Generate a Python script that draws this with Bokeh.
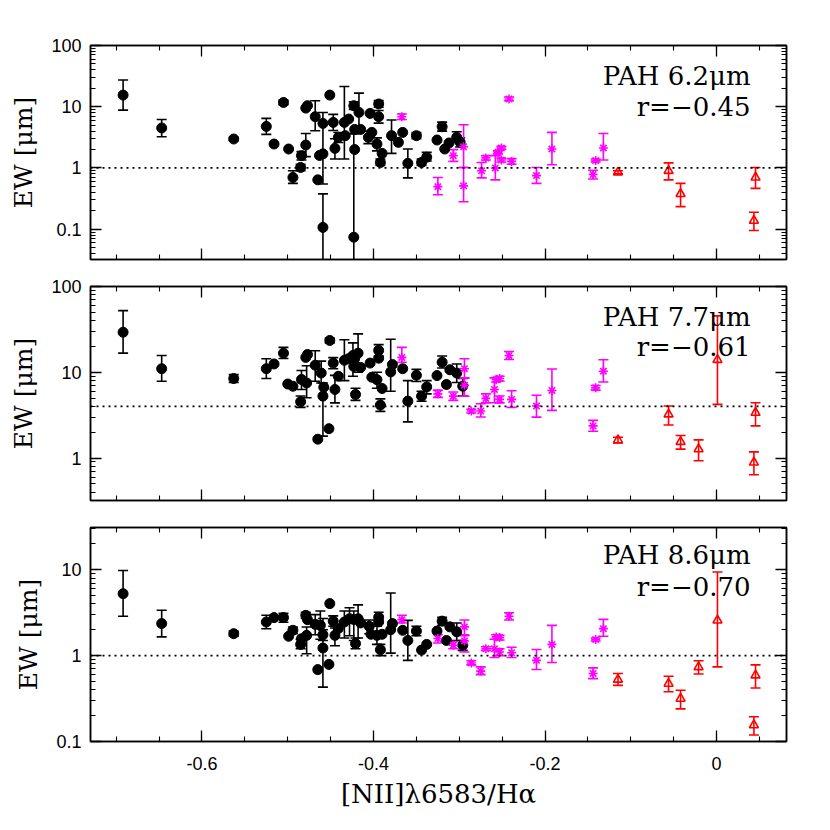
from bokeh.plotting import figure
from bokeh.layouts import column
from bokeh.models import (ColumnDataSource, Whisker, TeeHead, Span, Label, LogAxis, LinearAxis,
                          FixedTicker, CustomJSTickFormatter)
from bokeh.embed import file_html
from bokeh.resources import INLINE

# ---------------- data ----------------
# Panel 1 : PAH 6.2um
P1_BLK_X = [-0.692, -0.647, -0.563, -0.525, -0.516, -0.505, -0.499, -0.494, -0.485, -0.484, -0.479, -0.479, -0.477,
            -0.468, -0.465, -0.463, -0.459, -0.459, -0.459, -0.451, -0.447, -0.445, -0.441, -0.434, -0.433, -0.429,
            -0.423, -0.422, -0.415, -0.417, -0.422, -0.423, -0.404, -0.406, -0.402, -0.394, -0.394, -0.396, -0.392,
            -0.390, -0.379, -0.371, -0.366, -0.360, -0.350, -0.344, -0.338, -0.326, -0.320, -0.317, -0.312, -0.303, -0.299]
P1_BLK_Y = [15.5, 4.5, 2.97, 4.77, 2.46, 11.75, 2.04, 0.70, 1.02, 1.59, 2.37, 9.5, 10.4,
            6.87, 0.64, 1.6, 1.7, 5.34, 0.107, 15.5, 5.55, 2.09, 3.16, 5.55, 3.37, 6.3,
            10.4, 4.26, 4.26, 8.07, 2.0, 0.074, 7.78, 3.16, 3.81, 11.1, 6.87, 2.46, 1.23,
            1.73, 3.37, 2.62, 3.81, 1.19, 3.37, 1.23, 1.50, 2.86, 4.72, 2.04, 2.56, 3.16, 2.62]
P1_BLK_LO = [8.8, 3.24, 2.8, 3.53, 2.46, 10.8, 2.04, 0.56, 0.9, 1.35, 1.53, 9.5, 10.4,
             4.05, 0.64, 1.6, 1.7, 0.548, 0.02, 15.5, 4.1, 1.4, 2.6, 1.40, 3.37, 6.3,
             9.0, 4.26, 4.26, 4.05, 2.0, 0.02, 7.78, 2.5, 3.81, 9.8, 5.4, 1.9, 1.1,
             1.73, 1.73, 2.62, 3.81, 0.69, 3.0, 1.1, 1.3, 2.86, 4.0, 2.04, 2.56, 2.6, 2.2]
P1_BLK_HI = [27.3, 6.2, 3.16, 6.45, 2.46, 12.8, 2.04, 0.90, 1.15, 1.85, 3.66, 9.5, 10.4,
             12.5, 0.64, 1.6, 1.7, 8.07, 0.377, 15.5, 7.5, 3.0, 3.8, 21.4, 3.37, 6.3,
             12.0, 4.26, 4.26, 16.7, 2.0, 3.6, 7.78, 4.0, 3.81, 12.6, 8.7, 3.1, 1.4,
             1.73, 6.07, 2.62, 3.81, 2.04, 3.8, 1.4, 1.8, 2.86, 5.6, 2.04, 2.56, 3.9, 3.1]

P1_MAG_X = [-0.367, -0.325, -0.307, -0.295, -0.295, -0.274, -0.269, -0.258, -0.255, -0.251, -0.251, -0.242,
            -0.239, -0.210, -0.192, -0.144, -0.141, -0.132]
P1_MAG_Y = [6.87, 0.495, 1.59, 2.22, 0.51, 0.90, 1.46, 1.0, 1.80, 2.12, 1.35, 13.4, 1.28, 0.75, 2.04, 0.78, 1.32, 2.12]
P1_MAG_LO = [6.2, 0.366, 1.28, 1.02, 0.28, 0.69, 1.35, 0.64, 1.7, 2.0, 1.25, 12.5, 1.15, 0.56, 1.13, 0.66, 1.25, 1.35]
P1_MAG_HI = [7.6, 0.70, 1.99, 5.08, 1.02, 1.23, 1.58, 1.59, 1.9, 2.25, 1.45, 14.4, 1.42, 1.02, 3.81, 0.92, 1.40, 3.66]

P1_RED_X = [-0.115, -0.056, -0.042, 0.0454, 0.0435]
P1_RED_Y = [0.85, 0.90, 0.377, 0.70, 0.138]
P1_RED_LO = [0.80, 0.64, 0.234, 0.465, 0.095]
P1_RED_HI = [0.90, 1.21, 0.56, 1.02, 0.189]

# Panel 2 : PAH 7.7um
P2_BLK_X = [-0.692, -0.647, -0.563, -0.525, -0.516, -0.505, -0.500, -0.494, -0.485, -0.484, -0.479, -0.477, -0.478,
            -0.468, -0.465, -0.461, -0.458, -0.459, -0.452, -0.451, -0.447, -0.445, -0.441, -0.434, -0.429, -0.424,
            -0.422, -0.418, -0.423, -0.421, -0.415, -0.404, -0.402, -0.394, -0.394, -0.396, -0.390, -0.392, -0.380,
            -0.378, -0.366, -0.360, -0.350, -0.344, -0.338, -0.326, -0.320, -0.315, -0.311, -0.303, -0.296]
P2_BLK_Y = [29.3, 11.0, 8.45, 11.0, 12.5, 16.7, 7.3, 6.88, 4.53, 8.23, 14.9, 16.1, 7.5,
            12.1, 1.66, 9.8, 6.7, 5.27, 2.2, 23.5, 12.8, 6.3, 8.99, 13.8, 14.4, 15.7,
            14.4, 16.7, 11.7, 5.51, 11.4, 12.8, 8.75, 18.0, 14.6, 8.2, 6.47, 4.15, 10.1,
            12.3, 11.0, 4.61, 9.23, 5.27, 6.75, 9.15, 13.1, 7.2, 10.7, 9.8, 6.88]
P2_BLK_LO = [16.7, 7.87, 7.6, 8.45, 12.5, 14.5, 7.3, 6.88, 3.9, 6.3, 14.9, 16.1, 5.04,
             7.87, 1.66, 7.5, 6.7, 1.8, 2.2, 22.0, 11.0, 4.4, 8.99, 8.0, 14.4, 9.0,
             14.4, 10.0, 11.7, 4.7, 11.4, 12.8, 8.75, 15.5, 14.6, 6.5, 6.47, 3.5, 6.0,
             12.3, 11.0, 2.64, 7.8, 4.6, 5.6, 9.15, 11.2, 7.2, 10.7, 7.6, 5.3]
P2_BLK_HI = [52.3, 15.7, 9.4, 14.4, 12.5, 19.5, 7.3, 6.88, 5.3, 10.5, 14.9, 16.1, 11.9,
             17.8, 1.66, 13.5, 6.7, 7.5, 2.2, 25.0, 14.8, 9.2, 8.99, 23.9, 14.4, 22.0,
             14.4, 28.0, 11.7, 6.5, 11.4, 12.8, 8.75, 21.0, 14.6, 10.0, 6.47, 4.9, 24.3,
             12.3, 11.0, 8.0, 10.8, 6.0, 8.0, 9.15, 15.5, 7.2, 10.7, 12.5, 8.5]

P2_MAG_X = [-0.367, -0.325, -0.307, -0.294, -0.294, -0.286, -0.275, -0.269, -0.259, -0.257, -0.253, -0.253,
            -0.242, -0.239, -0.210, -0.192, -0.144, -0.141, -0.132]
P2_MAG_Y = [14.9, 5.6, 5.27, 11.0, 7.07, 3.53, 3.53, 4.96, 6.3, 8.2, 8.45, 4.83, 15.7, 4.83, 4.04, 6.14, 2.37, 6.58, 10.3]
P2_MAG_LO = [13.1, 5.1, 4.7, 8.6, 5.27, 3.35, 3.01, 4.4, 4.41, 7.7, 7.9, 4.4, 14.1, 3.9, 3.0, 3.6, 2.05, 6.2, 7.7]
P2_MAG_HI = [19.5, 6.2, 5.9, 14.4, 8.6, 3.7, 4.29, 5.6, 8.6, 8.7, 9.0, 5.3, 17.5, 6.1, 5.4, 10.9, 2.75, 7.0, 14.0]

P2_RED_X = [-0.115, -0.056, -0.042, -0.021, 0.001, 0.0454, 0.0435]
P2_RED_Y = [1.62, 3.24, 1.55, 1.27, 14.0, 3.38, 0.889]
P2_RED_LO = [1.5, 2.43, 1.27, 0.93, 4.23, 2.37, 0.64]
P2_RED_HI = [1.75, 4.04, 1.83, 1.63, 45.4, 4.41, 1.18]

# Panel 3 : PAH 8.6um
P3_BLK_X = [-0.692, -0.647, -0.563, -0.525, -0.516, -0.505, -0.499, -0.494, -0.485, -0.484, -0.479, -0.477, -0.478,
            -0.468, -0.465, -0.462, -0.459, -0.459, -0.452, -0.451, -0.447, -0.445, -0.441, -0.434, -0.428, -0.423,
            -0.418, -0.421, -0.415, -0.405, -0.403, -0.394, -0.394, -0.396, -0.390, -0.392, -0.380, -0.378, -0.366,
            -0.360, -0.350, -0.344, -0.338, -0.326, -0.320, -0.315, -0.311, -0.303, -0.296]
P3_BLK_Y = [5.26, 2.36, 1.80, 2.46, 2.77, 2.77, 1.68, 1.97, 1.35, 1.57, 2.94, 2.62, 1.72,
            2.31, 0.687, 2.25, 1.75, 1.225, 0.79, 4.03, 2.52, 1.72, 2.07, 2.46, 2.69, 2.63,
            2.69, 1.38, 2.4, 2.19, 1.77, 2.8, 2.47, 1.72, 1.77, 1.17, 2.0, 2.36, 1.97,
            1.5, 1.93, 1.16, 1.35, 1.93, 2.52, 1.5, 2.16, 1.89, 1.32]
P3_BLK_LO = [2.87, 1.65, 1.68, 2.05, 2.77, 2.45, 1.68, 1.8, 1.2, 1.57, 2.7, 2.62, 1.05,
             1.75, 0.687, 1.55, 1.5, 0.43, 0.79, 4.03, 2.2, 1.3, 2.07, 1.6, 1.7, 1.5,
             1.6, 1.2, 2.4, 1.8, 1.77, 2.4, 2.47, 1.35, 1.77, 1.0, 1.07, 2.36, 1.97,
             0.88, 1.7, 1.16, 1.35, 1.93, 2.25, 1.5, 2.16, 1.5, 1.15]
P3_BLK_HI = [9.8, 3.37, 1.93, 2.95, 2.77, 3.1, 1.68, 2.15, 1.55, 1.57, 3.2, 2.62, 2.15,
             3.0, 0.687, 3.3, 2.0, 2.7, 0.79, 4.03, 2.9, 2.1, 2.07, 3.3, 3.6, 3.3,
             3.9, 1.6, 2.4, 2.6, 1.77, 3.2, 2.47, 2.2, 1.77, 1.35, 5.35, 2.36, 1.97,
             2.57, 2.2, 1.16, 1.35, 1.93, 2.8, 1.5, 2.16, 2.4, 1.5]

P3_MAG_X = [-0.367, -0.325, -0.307, -0.294, -0.294, -0.286, -0.275, -0.269, -0.259, -0.257, -0.253, -0.253,
            -0.242, -0.239, -0.210, -0.192, -0.144, -0.141, -0.132]
P3_MAG_Y = [2.62, 1.58, 1.32, 2.16, 1.48, 0.82, 0.66, 1.2, 1.2, 1.65, 1.62, 1.10, 2.87, 1.08, 0.88, 1.35, 0.62, 1.54, 2.06]
P3_MAG_LO = [2.4, 1.4, 1.2, 1.7, 1.1, 0.78, 0.6, 1.15, 0.95, 1.55, 1.52, 1.0, 2.6, 0.95, 0.69, 0.83, 0.54, 1.48, 1.68]
P3_MAG_HI = [2.95, 1.75, 1.45, 2.6, 1.75, 0.87, 0.74, 1.27, 1.55, 1.75, 1.72, 1.2, 3.15, 1.25, 1.18, 2.25, 0.72, 1.6, 2.64]

P3_RED_X = [-0.115, -0.056, -0.042, -0.021, 0.001, 0.0454, 0.0435]
P3_RED_Y = [0.526, 0.472, 0.316, 0.736, 2.57, 0.59, 0.155]
P3_RED_LO = [0.45, 0.38, 0.24, 0.61, 0.74, 0.42, 0.119]
P3_RED_HI = [0.62, 0.575, 0.395, 0.87, 9.4, 0.78, 0.194]

TITLES = ["PAH 6.2μm", "PAH 7.7μm", "PAH 8.6μm"]
R_TEXTS = ["r=−0.45", "r=−0.61", "r=−0.70"]
THRESHOLDS = [1.0, 4.0, 1.0]
X_TICKS = [-0.6, -0.4, -0.2, 0.0]
X_LABEL = "[NII]λ6583/Hα"
Y_LABEL = "EW [μm]"

# ---------------- styling / layout ----------------
X_RANGE = (-0.73, 0.0815)
Y_RANGES = [(0.032, 100), (0.32, 100), (0.1, 31)]
TITLE_Y = [32.0, 44.6, 14.7]
R_Y = [10.0, 19.5, 6.28]
TEXT_X = 0.0396
BORDERS = [(45, 13), (14, 13), (14, 62)]

SERIF = "DejaVu Serif"
SANS = "Liberation Sans"
MAG = "#ff00ff"
RED = "#ff0000"

x_minor = [round(-0.75 + 0.05 * i, 3) for i in range(18)]
y_major = [0.01, 0.1, 1, 10, 100]
y_minor = [m * 10.0 ** e for e in range(-2, 3) for m in range(1, 10)]

y_fmt = CustomJSTickFormatter(code="return tick >= 1 ? tick.toFixed(0) : String(Number(tick.toPrecision(1)));")
x_fmt = CustomJSTickFormatter(code="return Math.abs(tick) < 1e-9 ? '0' : tick.toFixed(1);")
blank_fmt = CustomJSTickFormatter(code="return '';")


def style_axis(ax, show_labels, is_x):
    ax.axis_line_color = "black"
    ax.axis_line_width = 1.5
    ax.major_tick_line_color = "black"
    ax.minor_tick_line_color = "black"
    ax.major_tick_line_width = 1.3
    ax.minor_tick_line_width = 1.1
    ax.major_tick_in = 11
    ax.major_tick_out = 0
    ax.minor_tick_in = 5
    ax.minor_tick_out = 0
    if show_labels:
        ax.major_label_text_font = SANS
        ax.major_label_text_font_size = "18px"
        ax.major_label_text_color = "black"
        ax.major_label_standoff = 15 if is_x else 9
        ax.formatter = x_fmt if is_x else y_fmt
    else:
        ax.formatter = blank_fmt
        ax.major_label_text_font_size = "1px"
        ax.major_label_standoff = 0


def add_series(p, xs, ys, lo, hi, color, marker, size, fill):
    eb = [i for i in range(len(xs)) if hi[i] > ys[i] * 1.0001 or lo[i] < ys[i] * 0.9999]
    esrc = ColumnDataSource(dict(base=[xs[i] for i in eb], lower=[lo[i] for i in eb], upper=[hi[i] for i in eb]))
    w = Whisker(base="base", lower="lower", upper="upper", source=esrc, dimension="height",
                line_color=color, line_width=1.6,
                upper_head=TeeHead(size=10, line_color=color, line_width=1.6),
                lower_head=TeeHead(size=10, line_color=color, line_width=1.6))
    p.add_layout(w)
    src = ColumnDataSource(dict(x=xs, y=ys))
    if fill:
        p.scatter("x", "y", source=src, marker=marker, size=size, fill_color=color, line_color=color, line_width=1)
    else:
        p.scatter("x", "y", source=src, marker=marker, size=size, fill_color=None, line_color=color, line_width=1.6)


panels = [
    (P1_BLK_X, P1_BLK_Y, P1_BLK_LO, P1_BLK_HI, P1_MAG_X, P1_MAG_Y, P1_MAG_LO, P1_MAG_HI,
     P1_RED_X, P1_RED_Y, P1_RED_LO, P1_RED_HI),
    (P2_BLK_X, P2_BLK_Y, P2_BLK_LO, P2_BLK_HI, P2_MAG_X, P2_MAG_Y, P2_MAG_LO, P2_MAG_HI,
     P2_RED_X, P2_RED_Y, P2_RED_LO, P2_RED_HI),
    (P3_BLK_X, P3_BLK_Y, P3_BLK_LO, P3_BLK_HI, P3_MAG_X, P3_MAG_Y, P3_MAG_LO, P3_MAG_HI,
     P3_RED_X, P3_RED_Y, P3_RED_LO, P3_RED_HI),
]

figs = []
for k, data in enumerate(panels):
    last = (k == 2)
    p = figure(x_range=X_RANGE, y_range=Y_RANGES[k], y_axis_type="log",
               frame_width=696, frame_height=214, output_backend="svg", toolbar_location=None,
               min_border_left=90, min_border_right=20,
               min_border_top=BORDERS[k][0], min_border_bottom=BORDERS[k][1])
    p.xgrid.visible = False
    p.ygrid.visible = False
    p.outline_line_color = "black"
    p.outline_line_width = 1.5
    p.background_fill_color = "white"
    p.border_fill_color = "white"

    xt = FixedTicker(ticks=X_TICKS, minor_ticks=x_minor)
    yt = FixedTicker(ticks=y_major, minor_ticks=y_minor)

    p.xaxis.ticker = xt
    p.yaxis.ticker = yt
    style_axis(p.xaxis[0], last, True)
    style_axis(p.yaxis[0], True, False)
    p.yaxis.axis_label = Y_LABEL
    p.yaxis.axis_label_text_font = SERIF
    p.yaxis.axis_label_text_font_size = "25px"
    p.yaxis.axis_label_text_font_style = "normal"
    p.yaxis.axis_label_text_color = "black"
    p.yaxis.axis_label_standoff = 10
    if last:
        p.xaxis.axis_label = X_LABEL
        p.xaxis.axis_label_text_font = SERIF
        p.xaxis.axis_label_text_font_size = "26px"
        p.xaxis.axis_label_text_font_style = "normal"
        p.xaxis.axis_label_text_color = "black"
        p.xaxis.axis_label_standoff = 6

    top = LinearAxis(ticker=xt)
    style_axis(top, False, True)
    p.add_layout(top, "above")
    right = LogAxis(ticker=yt)
    style_axis(right, False, False)
    p.add_layout(right, "right")

    (bx, by, blo, bhi, mx, my, mlo, mhi, rx, ry, rlo, rhi) = data
    p.add_layout(Span(location=THRESHOLDS[k], dimension="width", line_color="black",
                      line_width=1.8, line_dash="2 4"))
    add_series(p, bx, by, blo, bhi, "black", "circle", 10, True)
    add_series(p, mx, my, mlo, mhi, MAG, "asterisk", 9, False)
    add_series(p, rx, ry, rlo, rhi, RED, "triangle", 9, False)

    p.add_layout(Label(x=TEXT_X, y=TITLE_Y[k], text=TITLES[k], text_align="right", text_baseline="alphabetic",
                       text_font=SERIF, text_font_size="26px", text_color="black"))
    p.add_layout(Label(x=TEXT_X, y=R_Y[k], text=R_TEXTS[k], text_align="right", text_baseline="alphabetic",
                       text_font=SERIF, text_font_size="26px", text_color="black"))
    figs.append(p)

layout = column(*figs, spacing=0)
open("out.html", "w").write(file_html(layout, INLINE))
